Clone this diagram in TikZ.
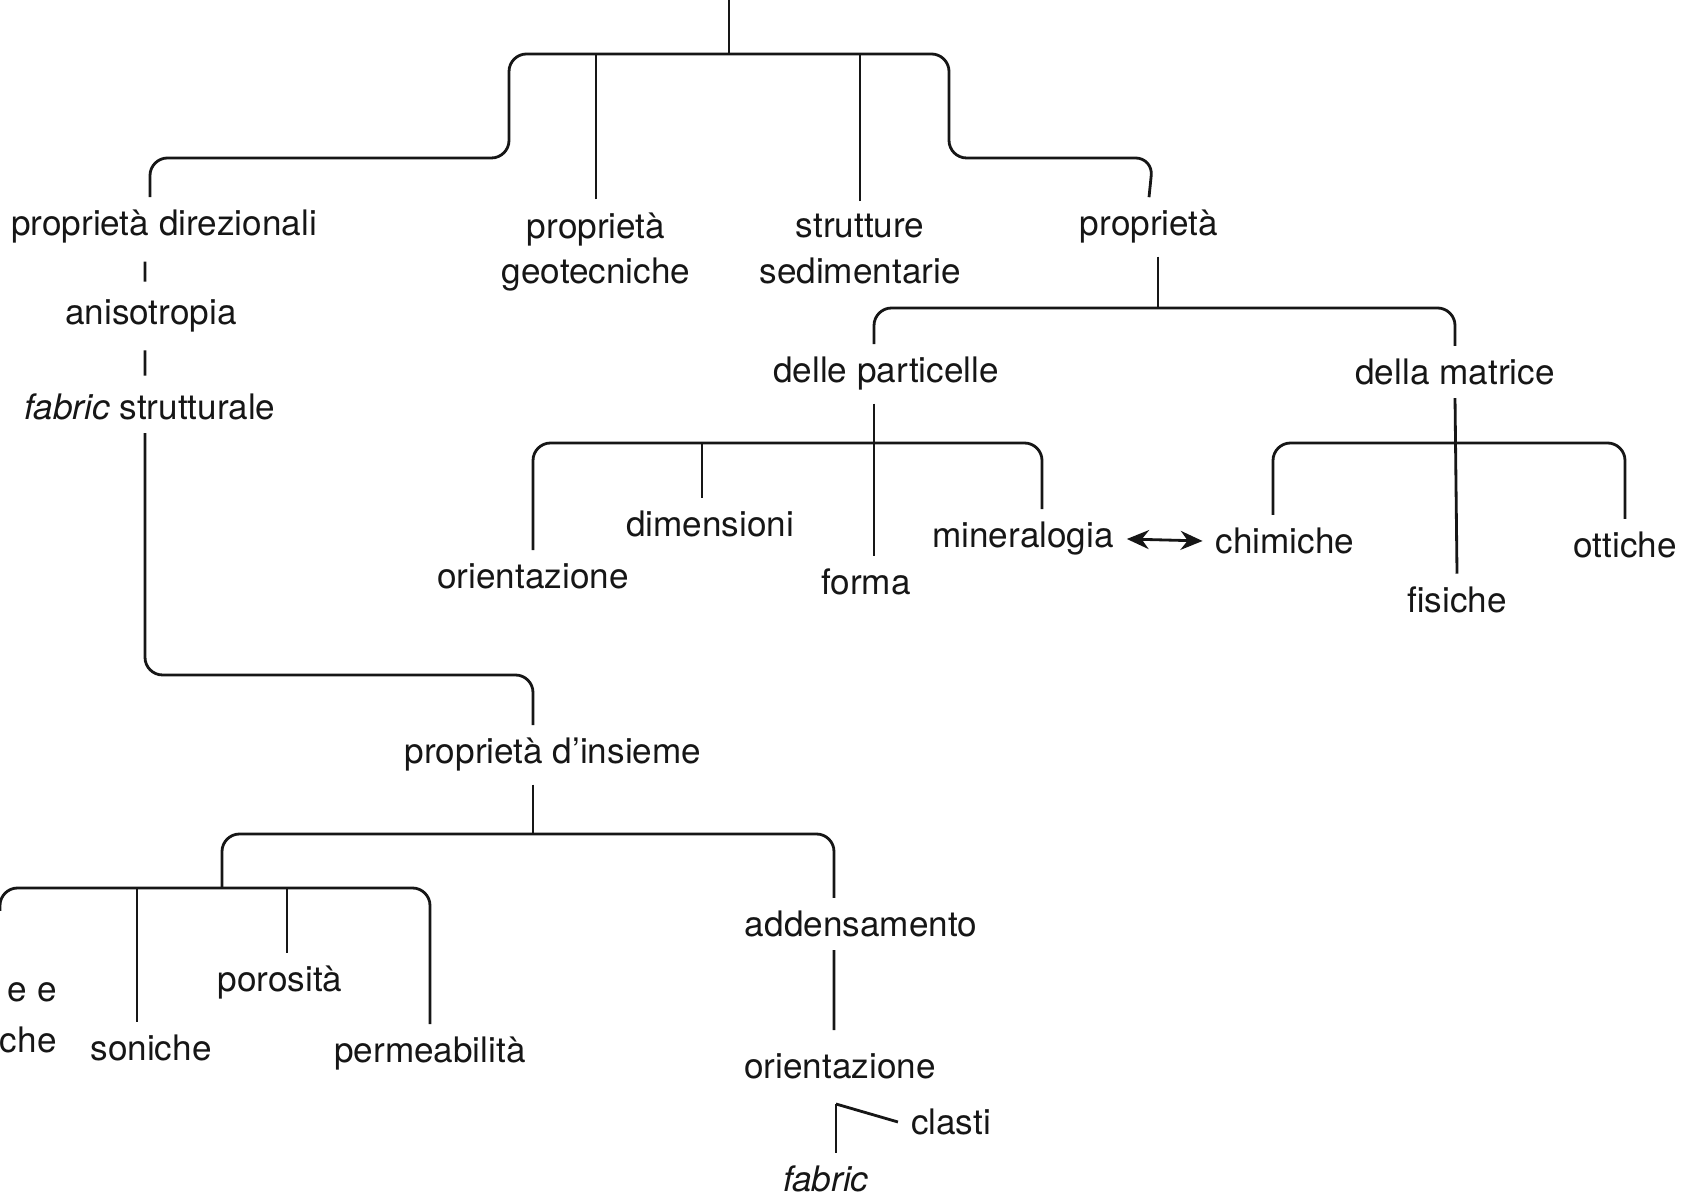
\documentclass[tikz,border=0pt]{standalone}
\usepackage{fontspec}
\setmainfont{TeX Gyre Heros}
\definecolor{ink}{RGB}{22,22,22}
\usetikzlibrary{arrows.meta}

\begin{document}
\begin{tikzpicture}[font=\fontsize{10}{13}\selectfont, line width=0.8pt, draw=ink, text=ink,
    br/.style={rounded corners=5pt},
    tick/.style={shorten <=0.5mm, shorten >=0.5mm}]

  \useasboundingbox (0,0) rectangle (16.81,11.96);

  % primo livello
  \coordinate (top) at (7.29,11.96);
  \coordinate (j0) at (7.29,11.42);
  \coordinate (lstep) at (5.09,10.38);
  \coordinate (rstep) at (9.49,11.42);
  \coordinate (pstep) at (11.53,10.38);
  \node (dir) at (1.64,9.69) {proprietà direzionali};
  \node[align=center] (geo) at (5.96,9.44) {proprietà\\geotecniche};
  \node[align=center] (sed) at (8.60,9.47) {strutture\\sedimentarie};
  \node (prop) at (11.49,9.69) {proprietà};

  \draw (top) -- (j0);
  \draw[br] ([xshift=-1.4mm]dir.north) |- (lstep) |- (rstep) |- (pstep) -- (prop.north);
  \draw (geo.north) -- (geo.north |- rstep);
  \draw (sed.north) -- (sed.north |- rstep);

  % ramo direzionale
  \node (aniso) at (1.51,8.80) {anisotropia};
  \node (fab) at (1.50,7.89) {\textit{fabric} strutturale};
  \draw[tick] ([xshift=-1.9mm]dir.south) -- ([xshift=-0.6mm]aniso.north);
  \draw[tick] ([xshift=-0.6mm]aniso.south) -- ([xshift=-0.5mm]fab.north);

  \node (insieme) at (5.53,4.41) {proprietà d'insieme};
  \coordinate (fstep) at (5.33,5.21);
  \draw[br] ([xshift=-0.5mm]fab.south) |- (fstep) -- (fstep |- insieme.north);

  \coordinate (j3) at (5.33,3.62);
  \coordinate (lstep2) at (2.22,3.08);
  \node (addens) at (8.61,2.72) {addensamento};
  \draw (j3 |- insieme.south) -- (j3);
  \draw[br] (lstep2) |- (j3) -| ([xshift=-2.7mm]addens.north);

  % proprieta d'insieme, a sinistra
  \node[align=right, anchor=east, inner sep=0pt] (elet) at (0.58,1.78) {e e\\[1.5pt]che};
  \node (soni) at (1.51,1.48) {soniche};
  \node (poro) at (2.80,2.13) {porosità};
  \node (perm) at (4.30,1.42) {permeabilità};
  \coordinate (lsub) at (0.0,2.85);
  \coordinate (s1) at (1.37,3.08);
  \coordinate (p1) at (2.87,3.08);
  \draw[br] (lsub) |- (lstep2) -| (perm.north);
  \draw (s1) -- (s1 |- soni.north);
  \draw (p1) -- (p1 |- poro.north);

  % addensamento
  \node (orient2) at (8.40,1.30) {orientazione};
  \node (clasti) at (9.51,0.74) {clasti};
  \node (fabric) at (8.26,0.17) {\textit{fabric}};
  \coordinate (fork) at (8.36,0.92);
  \draw[shorten >=1mm] ([xshift=-2.7mm]addens.south) -- ([xshift=-0.6mm]orient2.north);
  \draw (fork) -- (fork |- fabric.north);
  \draw (fork) -- (clasti.west);

  % proprieta delle particelle / della matrice
  \coordinate (j5) at (11.58,8.88);
  \node (part) at (8.86,8.22) {delle particelle};
  \node (matr) at (14.55,8.24) {della matrice};
  \draw (j5 |- prop.south) -- (j5);
  \draw[br] ([xshift=-1.2mm]part.north) |- (j5) -| (matr.north);

  \node (orient1) at (5.33,6.20) {orientazione};
  \node (dim) at (7.10,6.72) {dimensioni};
  \node (forma) at (8.66,6.14) {forma};
  \node (miner) at (10.23,6.57) {mineralogia};
  \coordinate (j6) at (8.74,7.53);
  \coordinate (d1) at (7.02,7.53);
  \draw (j6 |- part.south) -- (j6 |- forma.north);
  \draw[br] (orient1.north) |- (j6) -| ([xshift=1.9mm]miner.north);
  \draw (d1) -- (d1 |- dim.north);

  \node (chim) at (12.85,6.55) {chimiche};
  \node (fis) at (14.57,5.96) {fisiche};
  \node (ott) at (16.25,6.51) {ottiche};
  \coordinate (j7) at (14.55,7.53);
  \draw (matr.south) -- (fis.north);
  \draw[br] ([xshift=-1.2mm]chim.north) |- (j7) -| (ott.north);

  \draw[{Stealth[length=2.2mm,width=1.9mm]}-{Stealth[length=2.2mm,width=1.9mm]}] (miner.east) -- (chim.west);

\end{tikzpicture}
\end{document}
